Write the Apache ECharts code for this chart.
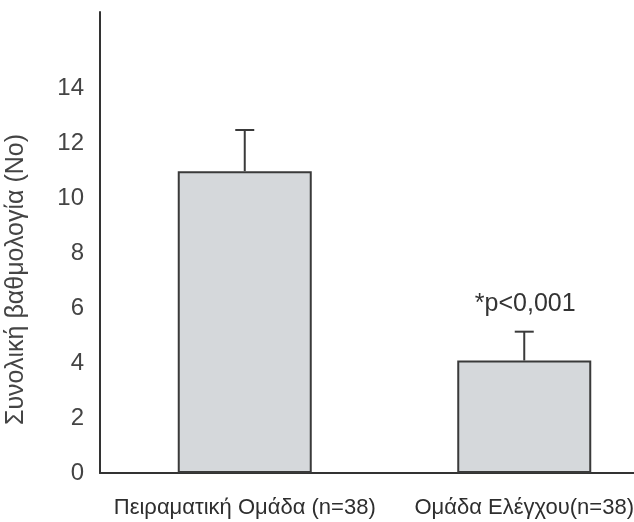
<!DOCTYPE html>
<html>
<head>
<meta charset="utf-8">
<script src="https://cdn.jsdelivr.net/npm/echarts@6/dist/echarts.min.js"></script>
<style>html,body{margin:0;padding:0;background:#fff}#c{width:634px;height:522px}</style>
</head>
<body>
<div id="c"></div>
<script>
var categories = ['Πειραματική Ομάδα (n=38)', 'Ομάδα Ελέγχου(n=38)'];
var means = [11, 4.1];
var errorTops = [12.5, 5.15];
var annotations = ['', '*p<0,001'];
var yTicks = [0, 2, 4, 6, 8, 10, 12, 14];
var yAxisTitle = 'Συνολική βαθμολογία (Νο)';

var FONT = '"Liberation Sans", Arial, sans-serif';
var YMAX = 16.8;
var chart = echarts.init(document.getElementById('c'));
chart.setOption({
  animation: false,
  backgroundColor: '#ffffff',
  grid: [
    {left: 105, width: 559, top: 12, bottom: 49, containLabel: false, outerBoundsMode: 'none'},
    {left: 100, right: 0, top: 12, bottom: 49, containLabel: false, outerBoundsMode: 'none'}
  ],
  xAxis: [
    {gridIndex: 0, type: 'category', data: categories,
      axisLine: {show: false}, axisTick: {show: false},
      axisLabel: {color: '#2e2e2e', fontFamily: FONT, fontSize: 22, margin: 24, interval: 0}},
    {gridIndex: 1, type: 'value', min: 0, max: 1,
      axisLine: {show: true, lineStyle: {color: '#333', width: 2}},
      axisTick: {show: false}, axisLabel: {show: false}, splitLine: {show: false}}
  ],
  yAxis: [
    {gridIndex: 0, type: 'value', min: 0, max: YMAX, interval: 2, show: false},
    {gridIndex: 1, type: 'value', min: 0, max: YMAX, interval: 2,
      axisLine: {show: true, lineStyle: {color: '#333', width: 2}},
      axisTick: {show: false}, splitLine: {show: false},
      axisLabel: {color: '#444', fontFamily: FONT, fontSize: 24, margin: 16, showMaxLabel: false,
        formatter: function (v) { return yTicks.indexOf(v) >= 0 ? String(v) : ''; }},
      name: yAxisTitle, nameLocation: 'middle', nameGap: 71, nameRotate: 90,
      nameTextStyle: {color: '#444', fontFamily: FONT, fontSize: 25, padding: [0, 74, 0, 0]}}
  ],
  series: [
    {type: 'bar', xAxisIndex: 0, yAxisIndex: 0, data: means, barWidth: 134,
      itemStyle: {color: '#d5d8db', borderColor: '#3a3a3a', borderWidth: 2}},
    {type: 'custom', xAxisIndex: 0, yAxisIndex: 0,
      data: means.map(function (m, i) { return [i, m, errorTops[i]]; }),
      renderItem: function (params, api) {
        var base = api.coord([api.value(0), api.value(1)]);
        var top = api.coord([api.value(0), api.value(2)]);
        var hw = 9.5;
        var children = [
          {type: 'line', shape: {x1: base[0], y1: base[1], x2: top[0], y2: top[1]}, style: {stroke: '#3a3a3a', lineWidth: 2}},
          {type: 'line', shape: {x1: top[0] - hw, y1: top[1], x2: top[0] + hw, y2: top[1]}, style: {stroke: '#3a3a3a', lineWidth: 2}}
        ];
        var t = annotations[params.dataIndex];
        if (t) {
          children.push({type: 'text', style: {text: t, x: top[0] + 1, y: top[1] - 15, fill: '#333',
            font: '25px ' + FONT, textAlign: 'center', textVerticalAlign: 'bottom'}});
        }
        return {type: 'group', children: children};
      }, z: 5}
  ]
});
</script>
</body>
</html>
